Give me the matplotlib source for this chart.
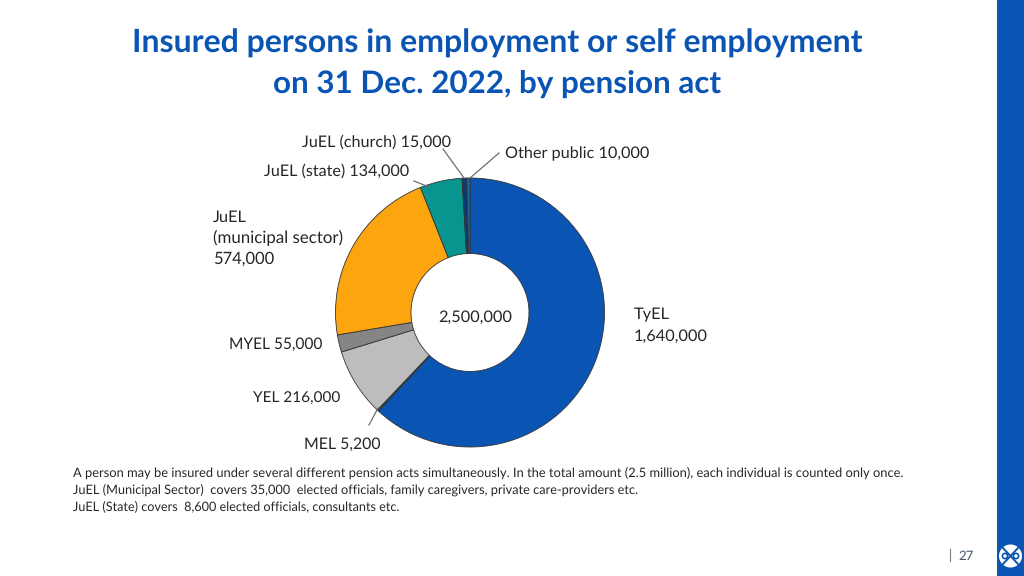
import matplotlib.pyplot as plt
from matplotlib.patches import Circle, Rectangle

# clockwise from 12 o'clock
acts = ["TyEL", "MEL", "YEL", "MYEL", "JuEL (municipal)", "JuEL (state)", "JuEL (church)", "Other public"]
insured = [1640000, 5200, 216000, 55000, 574000, 134000, 15000, 10000]
colors = ["#0a55b3", "#0d4f6b", "#bdbdbd", "#858585", "#fca50f", "#08948f", "#0d3a6e", "#1a6a9a"]

title_lines = ["Insured persons in employment or self employment", "on 31 Dec. 2022, by pension act"]
footnotes = [
    "A person may be insured under several different pension acts simultaneously. In the total amount (2.5 million), each individual is counted only once.",
    "JuEL (Municipal Sector)  covers 35,000  elected officials, family caregivers, private care-providers etc.",
    "JuEL (State) covers  8,600 elected officials, consultants etc.",
]

BLUE = "#0a55b3"
TEXT = "#262626"

plt.rcParams["font.family"] = ["Lato", "DejaVu Sans"]
plt.rcParams["text.hinting"] = "none"

fig = plt.figure(figsize=(10.24, 5.76), dpi=100)
ax = fig.add_axes([0, 0, 1, 1])


def py(y):
    # reference pixels are counted from the top
    return 576 - y


ax.pie(
    insured,
    colors=colors,
    startangle=90,
    counterclock=False,
    center=(470, py(312.5)),
    radius=134.5,
    wedgeprops=dict(width=75.5, edgecolor="#333333", linewidth=0.6),
)
ax.set_xlim(0, 1024)
ax.set_ylim(0, 576)
ax.set_aspect("equal")
ax.axis("off")

# title
ax.text(497.5, py(43), title_lines[0], color=BLUE, fontsize=23.05, fontweight="bold", ha="center", va="center")
ax.text(497.5, py(84), title_lines[1], color=BLUE, fontsize=22.6, fontweight="bold", ha="center", va="center")

# slice labels
labels = [
    (302, 142.5, "JuEL (church) 15,000", 11.65),
    (505, 153.5, "Other public 10,000", 11.7),
    (264, 171.5, "JuEL (state) 134,000", 11.6),
    (213, 217, "JuEL", 11.8),
    (213, 238, "(municipal sector)", 12.15),
    (213, 259, "574,000", 11.9),
    (634, 315, "TyEL", 11.8),
    (634, 336, "1,640,000", 11.8),
    (438, 317, "2,500,000", 11.8),
    (229, 344.5, "MYEL 55,000", 11.2),
    (253, 397.5, "YEL 216,000", 11.1),
    (304, 444.5, "MEL 5,200", 11.4),
]
for x, y, s, size in labels:
    ax.text(x, py(y), s, color=TEXT, fontsize=size, ha="left", va="center")

# leader lines
leaders = [
    ((443, 149), (464, 178)),
    ((499, 153), (470, 178)),
    ((414, 181), (429, 187)),
    ((369, 425), (378, 408)),
]
for (x0, y0), (x1, y1) in leaders:
    ax.plot([x0, x1], [py(y0), py(y1)], color="#6e6e6e", lw=0.9)

# footnotes
for y, s, size in zip([472.5, 489.5, 506.5], footnotes, [9.28, 9.18, 9.12]):
    ax.text(73, py(y), s, color=TEXT, fontsize=size, ha="left", va="center")

# side band, page number, logo
ax.add_patch(Rectangle((997, 0), 27, 576, color=BLUE, lw=0))
ax.plot([950, 950], [py(549), py(561)], color="#7f7f7f", lw=0.8)
ax.text(958, py(556), "27", color="#44546a", fontsize=9.5, ha="left", va="center")
ax.add_patch(Circle((1010.5, py(556)), 11.5, color="white", lw=0))
ax.plot([1003, 1018], [py(548), py(564)], color=BLUE, lw=1.4)
ax.plot([1003, 1018], [py(564), py(548)], color=BLUE, lw=1.4)
ax.add_patch(Circle((1005, py(556)), 2.6, fc="white", ec=BLUE, lw=1.2))
ax.add_patch(Circle((1016, py(556)), 2.6, fc="white", ec=BLUE, lw=1.2))

fig.savefig("out.png", dpi=100)
